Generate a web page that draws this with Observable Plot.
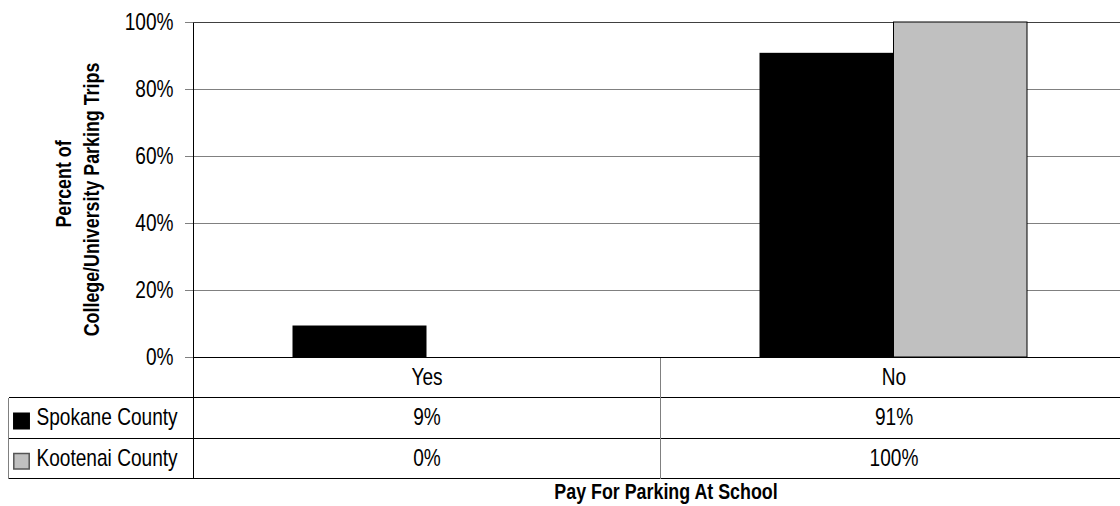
<!DOCTYPE html>
<html>
<head>
<meta charset="utf-8">
<script src="https://cdn.jsdelivr.net/npm/d3@7"></script>
<script src="https://cdn.jsdelivr.net/npm/@observablehq/plot@0.6"></script>
<style>
  html, body { margin: 0; padding: 0; background: #fff; overflow: hidden; }
  #chart { width: 1120px; height: 506px; }
</style>
</head>
<body>
<div id="chart"></div>
<script>
// ---- Data ----
const categories = ["Yes", "No"];
const seriesNames = ["Spokane County", "Kootenai County"];
const spokane = [0.094, 0.908];
const kootenai = [0.0, 1.0];
const spokaneLabels = ["9%", "91%"];
const kootenaiLabels = ["0%", "100%"];
const yTicks = [0, 0.2, 0.4, 0.6, 0.8, 1.0];
const yTickLabels = ["0%", "20%", "40%", "60%", "80%", "100%"];
const seriesColors = ["#000000", "#c0c0c0"];
const xTitle = "Pay For Parking At School";
const yTitleLines = ["Percent of", "College/University Parking Trips"];

// ---- Build tables ----
const spokaneData = categories.map((c, i) => ({cat: c, value: spokane[i], label: spokaneLabels[i]}));
const kootenaiData = categories.map((c, i) => ({cat: c, value: kootenai[i], label: kootenaiLabels[i]}));

const FONT = "'Liberation Sans', Arial, sans-serif";
const NARROW = 0.83;             // horizontal squeeze to mimic Arial Narrow
const W = 1120, H = 506;
const mLeft = 193, mTop = 22, mBottom = 149;
const bandRight = 1127;          // plot area extends slightly past the image edge
const rowH = 40.3;               // data table row height
const legendColW = 185;

const plot = Plot.plot({
  width: W,
  height: H,
  marginLeft: mLeft,
  marginRight: 0,
  marginTop: mTop,
  marginBottom: mBottom,
  style: {fontFamily: FONT, fontSize: "23px", background: "#fff", color: "#000", overflow: "hidden"},
  x: {domain: categories, range: [mLeft, bandRight], paddingInner: 0, paddingOuter: 0, axis: null},
  y: {domain: [0, 1], axis: null},
  marks: [
    // gridlines
    Plot.ruleY(yTicks.filter(d => d > 0 && d < 1), {stroke: "#808080", strokeWidth: 1, shapeRendering: "crispEdges"}),
    Plot.ruleY([1], {stroke: "#404040", strokeWidth: 1.3, shapeRendering: "crispEdges"}),
    // y axis ticks + labels
    Plot.axisY(yTicks, {
      tickSize: 8, tickPadding: 12, stroke: "#808080", fill: "#000",
      tickFormat: (d) => yTickLabels[yTicks.indexOf(d)],
      fontSize: 23, anchor: "left", label: null
    }),
    // bars
    Plot.barY(spokaneData, {x: "cat", y: "value", fill: seriesColors[0], insetLeft: 99.5, insetRight: 233.5}),
    Plot.barY(kootenaiData, {x: "cat", y: "value", fill: seriesColors[1], stroke: "#000", strokeWidth: 1, insetLeft: 233.5, insetRight: 100}),
    Plot.ruleY([0], {stroke: "#000", strokeWidth: 1, shapeRendering: "crispEdges"}),
    // data table: header row (category labels)
    Plot.text(categories, {x: d => d, text: d => d, frameAnchor: "bottom", lineAnchor: "middle", dy: rowH * 0.5, fontSize: 23}),
    // data table values
    Plot.text(spokaneData, {x: "cat", text: "label", frameAnchor: "bottom", lineAnchor: "middle", dy: rowH * 1.5, fontSize: 23}),
    Plot.text(kootenaiData, {x: "cat", text: "label", frameAnchor: "bottom", lineAnchor: "middle", dy: rowH * 2.5, fontSize: 23}),
    // legend keys in table
    Plot.dot([seriesNames[0]], {frameAnchor: "bottom-left", dx: -172, dy: rowH * 1.5 + 3, symbol: "square", r: 8.7, fill: seriesColors[0], stroke: "#000"}),
    Plot.dot([seriesNames[1]], {frameAnchor: "bottom-left", dx: -172, dy: rowH * 2.5 + 3, symbol: "square", r: 8.7, fill: seriesColors[1], stroke: "#555"}),
    Plot.text([seriesNames[0]], {text: d => d, frameAnchor: "bottom-left", lineAnchor: "middle", dx: -157, dy: rowH * 1.5, textAnchor: "start", fontSize: 23}),
    Plot.text([seriesNames[1]], {text: d => d, frameAnchor: "bottom-left", lineAnchor: "middle", dx: -157, dy: rowH * 2.5, textAnchor: "start", fontSize: 23}),
    // axis titles
    Plot.text([xTitle], {text: d => d, frameAnchor: "bottom", lineAnchor: "middle", textAnchor: "middle", dx: 9, dy: 135, fontWeight: "bold", fontSize: 21.5}),
    Plot.text([yTitleLines[0]], {text: d => d, frameAnchor: "left", lineAnchor: "middle", textAnchor: "middle", dx: -129.5, dy: -6, rotate: -90, fontWeight: "bold", fontSize: 21.5}),
    Plot.text([yTitleLines[1]], {text: d => d, frameAnchor: "left", lineAnchor: "middle", textAnchor: "middle", dx: -101.5, dy: 9.5, rotate: -90, fontWeight: "bold", fontSize: 21.5})
  ]
});

// squeeze all texts horizontally (along their own direction) to mimic a narrow face
d3.select(plot).selectAll("text").each(function () {
  const t = this.getAttribute("transform") || "";
  this.setAttribute("transform", `${t} scale(${NARROW},1)`);
});

// ---- Data table borders (derived from the plot's scales) ----
const sx = plot.scale("x"), sy = plot.scale("y");
const xLeft = sx.apply(categories[0]);
const xMid = sx.apply(categories[1]);
const yBase = sy.apply(0);
const yTop = sy.apply(1);
const yBottom = yBase + 3 * rowH;
const g = d3.select(plot).append("g").attr("shape-rendering", "crispEdges").attr("fill", "none");
const px = v => Math.round(v) + 0.5;
// horizontal row lines
[1, 2, 3].forEach(k => {
  g.append("line").attr("x1", px(xLeft - legendColW)).attr("x2", W)
    .attr("y1", px(yBase + k * rowH)).attr("y2", px(yBase + k * rowH)).attr("stroke", "#000");
});
// left axis / table column line
g.append("line").attr("x1", px(xLeft)).attr("x2", px(xLeft)).attr("y1", px(yTop)).attr("y2", px(yBottom)).attr("stroke", "#000");
// category divider
g.append("line").attr("x1", px(xMid)).attr("x2", px(xMid)).attr("y1", px(yBase)).attr("y2", px(yBottom)).attr("stroke", "#808080");
// legend column outer edge
g.append("line").attr("x1", px(xLeft - legendColW)).attr("x2", px(xLeft - legendColW)).attr("y1", px(yBase + rowH)).attr("y2", px(yBottom)).attr("stroke", "#808080");

document.getElementById("chart").appendChild(plot);
</script>
</body>
</html>
